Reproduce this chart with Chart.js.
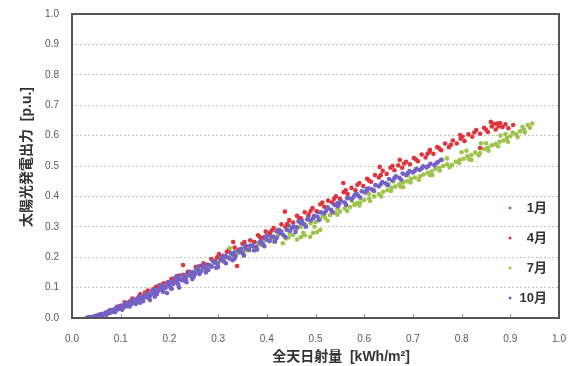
<!DOCTYPE html>
<html lang="ja">
<head>
<meta charset="utf-8">
<title>太陽光発電出力</title>
<script src="https://cdn.jsdelivr.net/npm/chart.js@4.4.1/dist/chart.umd.min.js"></script>
<style>
  html, body { margin: 0; padding: 0; background: #fff; }
  #chart01 { display: block; }
</style>
</head>
<body>
<canvas id="chart01" width="568" height="366"></canvas>
<script>
// 凡例ラベル
var months = ['1月', '4月', '7月', '10月'];
// 目盛り（x, y 共通）
var tickValues = [0.0, 0.1, 0.2, 0.3, 0.4, 0.5, 0.6, 0.7, 0.8, 0.9, 1.0];

// 各月の [全天日射量, 太陽光発電出力]
var jan = [
  [0.035,0.002],[0.055,0.010],[0.075,0.020],[0.095,0.034],[0.115,0.050],[0.135,0.064],[0.155,0.082],[0.175,0.098],[0.195,0.114],[0.215,0.128],
  [0.235,0.142],[0.255,0.158],[0.275,0.172],[0.295,0.188],[0.315,0.204],[0.335,0.218],[0.355,0.234],[0.375,0.250],[0.395,0.266],[0.407,0.282],
  [0.425,0.290],[0.445,0.304],[0.465,0.318],[0.485,0.334],[0.505,0.348],[0.525,0.364],[0.545,0.378],[0.565,0.394],[0.585,0.408],[0.605,0.424]
];
var apr = [
  [0.050,0.006],[0.060,0.012],[0.068,0.014],[0.076,0.024],[0.084,0.026],[0.092,0.036],[0.100,0.040],[0.108,0.052],[0.116,0.050],[0.124,0.064],
  [0.132,0.062],[0.140,0.078],[0.148,0.072],[0.156,0.090],[0.164,0.086],[0.172,0.102],[0.180,0.098],[0.188,0.114],[0.196,0.110],[0.204,0.128],
  [0.212,0.122],[0.220,0.140],[0.228,0.174],[0.230,0.134],[0.238,0.152],[0.246,0.150],[0.254,0.168],[0.262,0.160],[0.270,0.180],[0.278,0.176],
  [0.286,0.194],[0.294,0.188],[0.302,0.210],[0.310,0.198],[0.318,0.218],[0.326,0.214],[0.331,0.250],[0.339,0.171],[0.334,0.232],[0.342,0.224],
  [0.350,0.244],[0.358,0.236],[0.366,0.256],[0.374,0.250],[0.382,0.272],[0.390,0.262],[0.398,0.284],[0.406,0.276],[0.414,0.296],[0.422,0.288],
  [0.430,0.308],[0.437,0.350],[0.438,0.300],[0.446,0.322],[0.454,0.314],[0.462,0.336],[0.470,0.328],[0.478,0.348],[0.486,0.340],[0.494,0.362],
  [0.502,0.352],[0.510,0.374],[0.518,0.366],[0.526,0.386],[0.534,0.380],[0.542,0.400],[0.550,0.392],[0.557,0.444],[0.558,0.414],[0.566,0.408],
  [0.574,0.428],[0.582,0.420],[0.590,0.444],[0.598,0.434],[0.606,0.458],[0.614,0.448],[0.622,0.470],[0.630,0.462],[0.632,0.497],[0.638,0.484],
  [0.646,0.474],[0.654,0.494],[0.662,0.486],[0.673,0.520],[0.670,0.502],[0.678,0.494],[0.686,0.514],[0.694,0.506],[0.702,0.526],[0.710,0.516],
  [0.718,0.538],[0.726,0.528],[0.735,0.553],[0.734,0.546],[0.742,0.540],[0.750,0.562],[0.758,0.552],[0.766,0.574],[0.774,0.562],[0.782,0.584],
  [0.790,0.574],[0.797,0.602],[0.798,0.590],[0.806,0.582],[0.814,0.604],[0.822,0.596],[0.830,0.618],[0.838,0.559],[0.838,0.606],[0.846,0.626],
  [0.854,0.612],[0.860,0.645],[0.862,0.630],[0.870,0.620],[0.872,0.640],[0.879,0.641],[0.884,0.628],[0.890,0.637],[0.896,0.624],[0.906,0.635],
  [0.090,0.030],[0.120,0.056],[0.150,0.084],[0.178,0.106],[0.208,0.130],[0.236,0.144],[0.266,0.172],[0.298,0.200],[0.322,0.224],[0.354,0.250],
  [0.386,0.266],[0.410,0.288],[0.442,0.310],[0.466,0.330],[0.490,0.352],[0.514,0.380],[0.538,0.392],[0.562,0.420],[0.586,0.438],[0.610,0.452],
  [0.634,0.470],[0.658,0.500],[0.682,0.508],[0.706,0.522],[0.730,0.540],[0.754,0.558],[0.778,0.570],[0.802,0.596],[0.826,0.610],[0.850,0.620],
  [0.866,0.638],[0.876,0.630]
];
var jul = [
  [0.052,0.004],[0.062,0.010],[0.072,0.016],[0.082,0.022],[0.092,0.028],[0.102,0.034],[0.112,0.044],[0.122,0.052],[0.132,0.060],[0.142,0.068],
  [0.152,0.078],[0.162,0.084],[0.172,0.092],[0.182,0.100],[0.192,0.106],[0.202,0.116],[0.212,0.122],[0.222,0.130],[0.232,0.138],[0.242,0.144],
  [0.252,0.152],[0.262,0.158],[0.272,0.166],[0.283,0.169],[0.292,0.180],[0.302,0.186],[0.312,0.192],[0.324,0.230],[0.322,0.200],[0.332,0.206],
  [0.342,0.214],[0.352,0.220],[0.362,0.228],[0.372,0.234],[0.382,0.240],[0.392,0.248],[0.402,0.256],[0.412,0.262],[0.422,0.270],[0.433,0.246],
  [0.440,0.262],[0.447,0.278],[0.454,0.273],[0.462,0.258],[0.470,0.266],[0.478,0.272],[0.489,0.267],[0.495,0.280],[0.503,0.283],[0.510,0.290],
  [0.460,0.292],[0.470,0.300],[0.480,0.306],[0.490,0.312],[0.500,0.316],[0.510,0.326],[0.520,0.330],[0.530,0.338],[0.540,0.346],[0.550,0.350],
  [0.560,0.360],[0.571,0.365],[0.580,0.372],[0.585,0.378],[0.592,0.380],[0.600,0.388],[0.610,0.392],[0.620,0.400],[0.630,0.408],[0.639,0.415],
  [0.648,0.420],[0.656,0.428],[0.664,0.432],[0.672,0.440],[0.680,0.446],[0.688,0.450],[0.696,0.458],[0.704,0.462],[0.715,0.466],[0.722,0.472],
  [0.730,0.478],[0.738,0.482],[0.746,0.490],[0.754,0.494],[0.762,0.500],[0.770,0.506],[0.780,0.503],[0.788,0.514],[0.796,0.520],[0.804,0.524],
  [0.812,0.532],[0.820,0.536],[0.828,0.544],[0.838,0.543],[0.846,0.556],[0.854,0.560],[0.862,0.568],[0.870,0.572],[0.878,0.580],[0.886,0.584],
  [0.893,0.592],[0.900,0.598],[0.905,0.610],[0.912,0.604],[0.920,0.614],[0.928,0.620],[0.936,0.635],[0.940,0.626],
  [0.760,0.520],[0.800,0.545],[0.840,0.575],[0.880,0.600],[0.700,0.480],[0.660,0.450],[0.620,0.420],[0.740,0.470],[0.820,0.520],[0.680,0.430],
  [0.120,0.040],[0.150,0.070],[0.180,0.092],[0.210,0.116],[0.240,0.140],[0.270,0.160],[0.300,0.182],[0.330,0.200],[0.360,0.222],[0.390,0.240],
  [0.415,0.250],[0.445,0.265],[0.475,0.280],[0.498,0.300],[0.525,0.320],[0.545,0.340],[0.565,0.352],[0.590,0.370],[0.612,0.385],[0.635,0.400],
  [0.655,0.418],[0.675,0.432],[0.695,0.446],[0.712,0.455],[0.735,0.470],[0.755,0.485],[0.775,0.496],[0.795,0.510],[0.815,0.522],[0.835,0.535],
  [0.855,0.550],[0.875,0.565],[0.895,0.580],[0.915,0.595],[0.930,0.610],[0.925,0.628],[0.945,0.640],[0.890,0.605],[0.850,0.575],[0.810,0.550],
  [0.770,0.525],[0.730,0.498],[0.690,0.470],[0.650,0.440],[0.610,0.408],[0.575,0.385],[0.545,0.360],[0.515,0.338]
];
var oct = [
  [0.030,0.001],[0.035,0.003],[0.039,0.000],[0.043,0.005],[0.047,0.003],[0.050,0.008],[0.053,0.006],[0.057,0.011],[0.060,0.009],[0.063,0.014],
  [0.066,0.012],[0.069,0.018],[0.072,0.015],[0.075,0.021],[0.078,0.017],[0.081,0.025],[0.084,0.021],[0.087,0.029],[0.090,0.024],[0.093,0.032],
  [0.096,0.030],[0.099,0.036],[0.102,0.031],[0.105,0.041],[0.108,0.036],[0.111,0.045],[0.114,0.040],[0.117,0.049],[0.120,0.044],[0.123,0.054],
  [0.126,0.049],[0.129,0.058],[0.132,0.052],[0.135,0.062],[0.138,0.057],[0.141,0.067],[0.145,0.061],[0.148,0.072],[0.152,0.068],[0.156,0.078],
  [0.160,0.059],[0.161,0.074],[0.164,0.085],[0.168,0.080],[0.172,0.091],[0.176,0.087],[0.180,0.097],[0.184,0.093],[0.188,0.104],[0.195,0.082],
  [0.192,0.099],[0.196,0.110],[0.200,0.106],[0.204,0.117],[0.208,0.112],[0.212,0.123],[0.216,0.119],[0.220,0.100],[0.221,0.129],[0.225,0.124],
  [0.230,0.136],[0.234,0.131],[0.239,0.143],[0.244,0.139],[0.249,0.151],[0.254,0.146],[0.259,0.158],[0.265,0.154],[0.270,0.166],[0.276,0.161],
  [0.282,0.174],[0.287,0.169],[0.293,0.183],[0.299,0.178],[0.305,0.192],[0.311,0.187],[0.317,0.201],[0.323,0.196],[0.330,0.210],[0.336,0.205],
  [0.343,0.219],[0.350,0.214],[0.357,0.228],[0.364,0.224],[0.371,0.238],[0.378,0.233],[0.385,0.248],[0.392,0.243],[0.399,0.258],[0.406,0.253],
  [0.413,0.268],[0.420,0.263],[0.427,0.278],[0.434,0.273],[0.441,0.290],[0.448,0.287],[0.455,0.301],[0.462,0.298],[0.469,0.313],[0.476,0.309],
  [0.483,0.324],[0.490,0.321],[0.497,0.336],[0.504,0.333],[0.511,0.348],[0.518,0.344],[0.525,0.360],[0.532,0.356],[0.539,0.372],[0.546,0.368],
  [0.553,0.384],[0.560,0.380],[0.567,0.395],[0.574,0.391],[0.581,0.406],[0.588,0.402],[0.595,0.417],[0.602,0.413],[0.609,0.427],[0.616,0.423],
  [0.623,0.437],[0.630,0.433],[0.637,0.447],[0.644,0.443],[0.651,0.457],[0.658,0.452],[0.665,0.466],[0.672,0.461],[0.679,0.475],[0.686,0.470],
  [0.693,0.483],[0.700,0.479],[0.707,0.491],[0.714,0.487],[0.721,0.499],[0.728,0.495],[0.736,0.507],[0.744,0.503],[0.752,0.514],[0.758,0.520],
  [0.140,0.050],[0.170,0.070],[0.205,0.096],[0.235,0.118],[0.250,0.136],[0.275,0.150],[0.300,0.168],[0.330,0.190],[0.215,0.138],[0.260,0.170],
  [0.310,0.205],[0.355,0.240],[0.400,0.270],[0.420,0.285],[0.380,0.225],
  [0.062,0.006],[0.071,0.011],[0.079,0.026],[0.088,0.019],[0.094,0.038],[0.103,0.027],[0.109,0.048],[0.118,0.038],[0.124,0.060],[0.131,0.046],
  [0.137,0.070],[0.146,0.055],[0.153,0.080],[0.158,0.066],[0.166,0.094],[0.174,0.078],[0.181,0.108],[0.187,0.086],[0.197,0.118],[0.203,0.098],
  [0.211,0.131],[0.218,0.110],[0.228,0.142],[0.232,0.122],[0.242,0.152],[0.247,0.128],[0.257,0.164],[0.262,0.145],[0.272,0.176],[0.280,0.158],
  [0.289,0.188],[0.296,0.165],[0.307,0.199],[0.316,0.180],[0.326,0.214],[0.334,0.196],[0.347,0.228],[0.353,0.206],[0.366,0.238],[0.374,0.222],
  [0.388,0.255],[0.395,0.236],[0.409,0.266],[0.417,0.252],[0.430,0.284],[0.438,0.266],[0.452,0.296],[0.459,0.283],[0.472,0.320],[0.480,0.300],
  [0.495,0.328],[0.507,0.322],[0.521,0.351],[0.535,0.348],[0.549,0.376],[0.563,0.372],[0.578,0.398],[0.592,0.396],[0.606,0.420],[0.620,0.418],
  [0.634,0.440],[0.648,0.437],[0.662,0.460],[0.676,0.455],[0.690,0.478],[0.704,0.484],[0.718,0.492],[0.732,0.500],[0.748,0.509]
];
var seriesData = [jan, apr, jul, oct];
var seriesColors = ['#4F81BD', '#E0333C', '#9DC34A', '#7660C8'];

var FONT = "'Liberation Sans', 'Noto Sans CJK JP', sans-serif";

// 枠線・目盛り・凡例・軸タイトル
var framePlugin = {
  id: 'frame',
  afterDatasetsDraw: function (chart) {
    var ctx = chart.ctx;
    var a = chart.chartArea;
    var xs = chart.scales.x;
    ctx.save();
    // x軸の内向き目盛り
    ctx.strokeStyle = '#888';
    ctx.lineWidth = 1;
    tickValues.forEach(function (v) {
      var px = Math.round(xs.getPixelForValue(v)) + 0.5;
      ctx.beginPath();
      ctx.moveTo(px, a.bottom);
      ctx.lineTo(px, a.bottom - 4);
      ctx.stroke();
    });
    // 外枠
    ctx.strokeStyle = '#555';
    ctx.lineWidth = 2;
    ctx.strokeRect(a.left, a.top, a.right - a.left, a.bottom - a.top);
    ctx.restore();
  },
  afterDraw: function (chart) {
    var ctx = chart.ctx;
    var a = chart.chartArea;
    ctx.save();
    // 凡例
    chart.data.datasets.forEach(function (ds, i) {
      var y = a.bottom - 110 + i * 30;
      ctx.fillStyle = ds.backgroundColor;
      ctx.beginPath();
      ctx.arc(a.right - 49, y, 1.5, 0, Math.PI * 2);
      ctx.fill();
      ctx.fillStyle = '#333';
      ctx.font = 'bold 13px ' + FONT;
      ctx.textAlign = 'right';
      ctx.textBaseline = 'middle';
      ctx.fillText(ds.label, a.right - 12, y);
    });
    // 軸タイトル
    ctx.fillStyle = '#333';
    ctx.font = 'bold 14px ' + FONT;
    ctx.textAlign = 'center';
    ctx.textBaseline = 'middle';
    ctx.fillText('全天日射量  [kWh/m²]', 341, 357);
    ctx.translate(27, 157);
    ctx.rotate(-Math.PI / 2);
    ctx.fillText('太陽光発電出力  [p.u.]', 0, 0);
    ctx.restore();
  }
};

var chart = new Chart(document.getElementById('chart01'), {
  type: 'scatter',
  data: {
    datasets: seriesData.map(function (pts, i) {
      return {
        label: months[i],
        data: pts.map(function (p) { return { x: p[0], y: p[1] }; }),
        backgroundColor: seriesColors[i],
        borderWidth: 0,
        pointRadius: 2.3,
        order: 4 - i
      };
    })
  },
  options: {
    responsive: false,
    animation: false,
    devicePixelRatio: 1,
    layout: { padding: { left: 0, top: 14, right: 9, bottom: 0 } },
    plugins: {
      legend: { display: false },
      tooltip: { enabled: false }
    },
    scales: {
      x: {
        type: 'linear',
        min: 0,
        max: 1,
        afterBuildTicks: function (s) { s.ticks = tickValues.map(function (v) { return { value: v }; }); },
        afterFit: function (s) { s.height = 48; s.paddingLeft = 0; s.paddingRight = 0; },
        grid: { display: false },
        border: { display: false },
        ticks: {
          padding: 7,
          color: '#595959',
          font: { family: FONT, size: 10 },
          maxRotation: 0,
          callback: function (v) { return v.toFixed(1); }
        }
      },
      y: {
        type: 'linear',
        min: 0,
        max: 1,
        afterBuildTicks: function (s) { s.ticks = tickValues.map(function (v) { return { value: v }; }); },
        afterFit: function (s) { s.width = 72; s.paddingTop = 0; s.paddingBottom = 0; },
        grid: { color: '#c4c4c4', lineWidth: 1, drawTicks: false },
        border: { display: false, dash: [2, 2] },
        ticks: {
          padding: 13,
          color: '#595959',
          font: { family: FONT, size: 10 },
          callback: function (v) { return v.toFixed(1); }
        }
      }
    }
  },
  plugins: [framePlugin]
});
</script>
</body>
</html>
